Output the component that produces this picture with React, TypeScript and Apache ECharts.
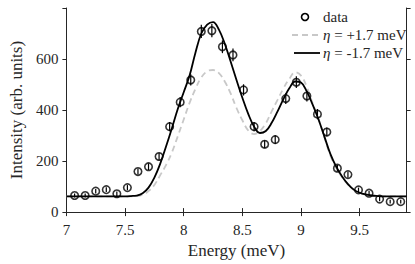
import React, { useEffect, useRef } from "react";
import * as echarts from "echarts";

// Measured data points
const dataE = [7.07, 7.16, 7.25, 7.34, 7.43, 7.52, 7.61, 7.70, 7.79, 7.88, 7.97, 8.06, 8.15, 8.24, 8.33, 8.42,
  8.51, 8.60, 8.69, 8.78, 8.87, 8.96, 9.05, 9.14, 9.22, 9.31, 9.40, 9.49, 9.58, 9.67, 9.76, 9.85];
const dataI = [65, 65, 82, 88, 72, 96, 159, 178, 218, 335, 431, 518, 708, 711, 648, 616,
  479, 335, 266, 284, 445, 509, 455, 384, 314, 172, 147, 87, 74, 51, 41, 41];
const dataErr = [8, 8, 9, 9, 9, 10, 12, 13, 15, 18, 20, 22, 26, 26, 25, 25,
  22, 18, 16, 17, 21, 23, 21, 20, 18, 13, 12, 9, 9, 8, 7, 7];

// Model curves
const curveE = [7.00, 7.05, 7.10, 7.15, 7.20, 7.25, 7.30, 7.35, 7.40, 7.45, 7.50, 7.55, 7.60, 7.65, 7.70, 7.75,
  7.80, 7.85, 7.90, 7.95, 8.00, 8.05, 8.10, 8.15, 8.20, 8.25, 8.30, 8.35, 8.40, 8.45, 8.50, 8.55, 8.60, 8.65,
  8.70, 8.75, 8.80, 8.85, 8.90, 8.95, 9.00, 9.05, 9.10, 9.15, 9.20, 9.25, 9.30, 9.35, 9.40, 9.45, 9.50, 9.55,
  9.60, 9.65, 9.70, 9.75, 9.80, 9.85, 9.90];
const etaPlus = [62, 62, 62, 62, 62, 62, 62, 62, 62, 62, 62, 62, 63, 68, 82, 106,
  145, 185, 235, 298, 363, 428, 483, 528, 552, 557, 545, 512, 465, 408, 360, 320, 306, 318,
  348, 395, 440, 485, 522, 548, 535, 490, 425, 365, 292, 222, 173, 137, 108, 87, 75, 68,
  65, 63, 62, 62, 62, 62, 62];
const etaMinus = [62, 62, 62, 62, 62, 62, 62, 62, 62, 62, 62, 63, 65, 74, 96, 135,
  190, 258, 330, 405, 470, 535, 625, 700, 735, 745, 715, 660, 590, 518, 448, 385, 335, 310,
  318, 350, 395, 443, 485, 512, 508, 472, 420, 362, 295, 228, 178, 140, 110, 88, 76, 69,
  65, 63, 62, 62, 62, 62, 62];

const xTicks = [7, 7.5, 8, 8.5, 9, 9.5];
const yTicks = [0, 200, 400, 600];

const FONT = "Liberation Serif";
const INK = "#262626";

export default function App() {
  const ref = useRef<HTMLDivElement>(null);
  useEffect(() => {
    if (!ref.current) return;
    const chart = echarts.init(ref.current, undefined, { renderer: "svg" });
    const axisCommon = {
      axisLine: { show: true, lineStyle: { color: INK, width: 1 } },
      axisTick: { show: true, inside: false, length: 4, lineStyle: { color: INK, width: 1 } },
      splitLine: { show: false },
    };
    const xFmt = (v: number) => (xTicks.some((t) => Math.abs(t - v) < 1e-6) ? String(v) : "");
    const yFmt = (v: number) => (yTicks.some((t) => Math.abs(t - v) < 1e-6) ? String(v) : "");
    const textBase = { fontFamily: FONT, fontSize: 15, fill: INK, textVerticalAlign: "middle" };
    chart.setOption({
      animation: false,
      textStyle: { fontFamily: FONT },
      grid: { left: 65.6, right: 8.4, top: 8, bottom: 50.7 },
      xAxis: [
        {
          type: "value", min: 7, max: 9.9, interval: 0.5, position: "bottom",
          ...axisCommon,
          axisLabel: { formatter: xFmt, margin: 10, fontFamily: FONT, fontSize: 15, color: INK, showMaxLabel: false },
          name: "Energy (meV)", nameLocation: "middle", nameGap: 25,
          nameTextStyle: { fontFamily: FONT, fontSize: 17, color: INK },
        },
        {
          type: "value", min: 7, max: 9.9, interval: 0.5, position: "top",
          ...axisCommon, axisLabel: { show: false },
        },
      ],
      yAxis: [
        {
          type: "value", min: 0, max: 800, interval: 200, position: "left",
          ...axisCommon,
          axisLabel: { formatter: yFmt, margin: 8, fontFamily: FONT, fontSize: 15, color: INK },
          name: "Intensity (arb. units)", nameLocation: "middle", nameGap: 28, nameRotate: 90,
          nameTextStyle: { fontFamily: FONT, fontSize: 17, color: INK },
        },
        {
          type: "value", min: 0, max: 800, interval: 200, position: "right",
          ...axisCommon, axisLabel: { show: false },
        },
      ],
      series: [
        {
          name: "err",
          type: "custom",
          xAxisIndex: 0, yAxisIndex: 0,
          data: dataE.map((e, i) => [e, dataI[i] - dataErr[i], dataI[i] + dataErr[i]]),
          encode: { x: 0, y: [1, 2] },
          renderItem: (params: any, api: any) => {
            const x = api.value(0);
            const lo = api.coord([x, api.value(1)]);
            const hi = api.coord([x, api.value(2)]);
            return {
              type: "line",
              shape: { x1: lo[0], y1: lo[1], x2: hi[0], y2: hi[1] },
              style: { stroke: "#000", lineWidth: 1.2 },
            };
          },
          z: 3,
        },
        {
          name: "data",
          type: "scatter",
          data: dataE.map((e, i) => [e, dataI[i]]),
          symbol: "circle",
          symbolSize: 7.5,
          itemStyle: { color: "rgba(255,255,255,0)", borderColor: "#000", borderWidth: 1.6 },
          z: 4,
        },
        {
          name: "eta+",
          type: "line",
          data: curveE.map((e, i) => [e, etaPlus[i]]),
          showSymbol: false,
          smooth: 0.4,
          lineStyle: { color: "#c8c8c8", width: 1.8, type: [6, 4] },
          z: 2,
        },
        {
          name: "eta-",
          type: "line",
          data: curveE.map((e, i) => [e, etaMinus[i]]),
          showSymbol: false,
          smooth: 0.4,
          lineStyle: { color: "#000", width: 1.8 },
          z: 5,
        },
      ],
      graphic: [
        { type: "circle", shape: { cx: 305, cy: 17, r: 3.5 }, style: { fill: "none", stroke: "#000", lineWidth: 1.6 } },
        { type: "text", x: 323, y: 17, style: { ...textBase, text: "data" } },
        { type: "line", shape: { x1: 292, y1: 35, x2: 318, y2: 35 }, style: { stroke: "#c8c8c8", lineWidth: 1.8, lineDash: [6, 4] } },
        {
          type: "text", x: 323, y: 35,
          style: {
            ...textBase, text: "{i|η} = +1.7 meV",
            rich: { i: { fontStyle: "italic", fontFamily: FONT, fontSize: 15, fill: INK } },
          },
        },
        { type: "line", shape: { x1: 294, y1: 53, x2: 320, y2: 53 }, style: { stroke: "#000", lineWidth: 1.8 } },
        {
          type: "text", x: 323, y: 53,
          style: {
            ...textBase, text: "{i|η} = -1.7 meV",
            rich: { i: { fontStyle: "italic", fontFamily: FONT, fontSize: 15, fill: INK } },
          },
        },
      ],
    });
    return () => chart.dispose();
  }, []);
  return (
    <div
      ref={ref}
      style={{ position: "absolute", left: 0, top: 0, width: 415, height: 264, background: "#fff" }}
    />
  );
}
